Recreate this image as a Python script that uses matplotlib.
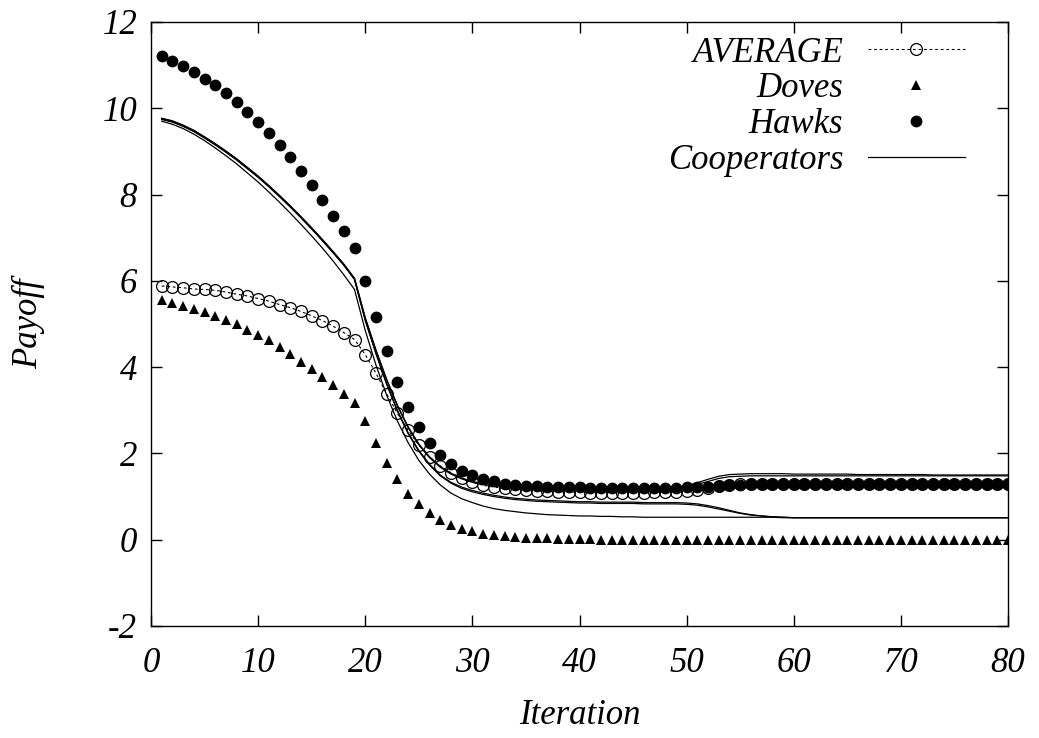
import numpy as np
import matplotlib
matplotlib.use('Agg')
import matplotlib.pyplot as plt

# Iterations 1..80
iteration = np.arange(1, 81)

average = [5.88, 5.86, 5.84, 5.81, 5.80, 5.78, 5.74, 5.69, 5.65, 5.59,
           5.53, 5.45, 5.38, 5.29, 5.19, 5.08, 4.95, 4.80, 4.64, 4.29,
           3.86, 3.38, 2.93, 2.54, 2.19, 1.92, 1.71, 1.55, 1.42, 1.33,
           1.26, 1.22, 1.19, 1.17, 1.15, 1.13, 1.12, 1.11, 1.10, 1.10,
           1.09, 1.09, 1.09, 1.09, 1.09, 1.09, 1.10, 1.10, 1.11, 1.13,
           1.16, 1.20, 1.24, 1.27, 1.29, 1.30, 1.30, 1.30, 1.30, 1.30,
           1.30, 1.30, 1.30, 1.30, 1.30, 1.30, 1.30, 1.30, 1.30, 1.30,
           1.30, 1.30, 1.30, 1.30, 1.30, 1.30, 1.30, 1.30, 1.30, 1.30]

doves = [5.55, 5.49, 5.42, 5.35, 5.27, 5.18, 5.09, 4.99, 4.87, 4.74,
         4.62, 4.47, 4.30, 4.12, 3.95, 3.77, 3.58, 3.38, 3.16, 2.74,
         2.25, 1.77, 1.40, 1.07, 0.82, 0.61, 0.45, 0.34, 0.25, 0.19,
         0.14, 0.11, 0.09, 0.07, 0.05, 0.04, 0.03, 0.02, 0.02, 0.01,
         0.01, 0.00, 0.00, 0.00, 0.00, 0.00, 0.00, 0.00, 0.00, 0.00,
         0.00, 0.00, 0.00, 0.00, 0.00, 0.00, 0.00, 0.00, 0.00, 0.00,
         0.00, 0.00, 0.00, 0.00, 0.00, 0.00, 0.00, 0.00, 0.00, 0.00,
         0.00, 0.00, 0.00, 0.00, 0.00, 0.00, 0.00, 0.00, 0.00, 0.00]

hawks = [11.21, 11.09, 10.97, 10.83, 10.68, 10.53, 10.35, 10.14, 9.92, 9.68,
         9.42, 9.15, 8.86, 8.54, 8.22, 7.87, 7.51, 7.15, 6.75, 6.00,
         5.17, 4.37, 3.66, 3.08, 2.61, 2.24, 1.96, 1.75, 1.60, 1.49,
         1.41, 1.35, 1.30, 1.27, 1.25, 1.24, 1.23, 1.22, 1.21, 1.21,
         1.20, 1.20, 1.20, 1.20, 1.20, 1.20, 1.20, 1.20, 1.20, 1.21,
         1.22, 1.23, 1.25, 1.26, 1.27, 1.28, 1.28, 1.28, 1.28, 1.28,
         1.28, 1.28, 1.28, 1.28, 1.28, 1.28, 1.28, 1.28, 1.28, 1.28,
         1.28, 1.28, 1.28, 1.28, 1.28, 1.28, 1.28, 1.28, 1.28, 1.28]

# five cooperator runs
coop_1 = [9.77, 9.71, 9.61, 9.49, 9.34, 9.18, 9.01, 8.83, 8.63, 8.43,
          8.21, 7.98, 7.74, 7.49, 7.23, 6.96, 6.68, 6.39, 6.06, 5.15,
          4.40, 3.72, 3.12, 2.62, 2.22, 1.92, 1.70, 1.54, 1.43, 1.35,
          1.30, 1.27, 1.25, 1.24, 1.23, 1.22, 1.22, 1.22, 1.22, 1.22,
          1.22, 1.22, 1.22, 1.22, 1.22, 1.22, 1.22, 1.22, 1.22, 1.25,
          1.32, 1.40, 1.47, 1.51, 1.52, 1.53, 1.53, 1.53, 1.53, 1.52,
          1.52, 1.52, 1.52, 1.52, 1.52, 1.51, 1.51, 1.51, 1.51, 1.51,
          1.51, 1.51, 1.50, 1.50, 1.50, 1.50, 1.50, 1.50, 1.50, 1.50]

coop_2 = [9.76, 9.70, 9.60, 9.48, 9.33, 9.17, 9.00, 8.82, 8.62, 8.42,
          8.20, 7.97, 7.73, 7.48, 7.22, 6.95, 6.67, 6.38, 6.05, 5.13,
          4.38, 3.70, 3.10, 2.60, 2.20, 1.90, 1.68, 1.52, 1.41, 1.33,
          1.28, 1.25, 1.23, 1.22, 1.21, 1.20, 1.20, 1.20, 1.20, 1.20,
          1.20, 1.20, 1.20, 1.20, 1.20, 1.20, 1.20, 1.20, 1.20, 1.22,
          1.28, 1.35, 1.42, 1.46, 1.47, 1.48, 1.48, 1.48, 1.48, 1.48,
          1.48, 1.48, 1.48, 1.48, 1.48, 1.48, 1.48, 1.48, 1.48, 1.48,
          1.48, 1.48, 1.48, 1.48, 1.48, 1.48, 1.48, 1.48, 1.48, 1.48]

coop_3 = [9.75, 9.69, 9.59, 9.47, 9.32, 9.16, 8.99, 8.81, 8.61, 8.41,
          8.19, 7.96, 7.72, 7.47, 7.21, 6.94, 6.66, 6.37, 6.04, 5.10,
          4.33, 3.62, 3.00, 2.48, 2.07, 1.75, 1.50, 1.33, 1.22, 1.14,
          1.08, 1.03, 0.99, 0.96, 0.94, 0.92, 0.91, 0.90, 0.89, 0.88,
          0.88, 0.87, 0.87, 0.87, 0.87, 0.86, 0.86, 0.86, 0.86, 0.85,
          0.83, 0.79, 0.74, 0.68, 0.62, 0.58, 0.55, 0.53, 0.52, 0.51,
          0.51, 0.51, 0.51, 0.51, 0.51, 0.51, 0.51, 0.51, 0.51, 0.51,
          0.51, 0.51, 0.51, 0.51, 0.51, 0.51, 0.51, 0.51, 0.51, 0.51]

coop_4 = [9.74, 9.68, 9.58, 9.46, 9.31, 9.15, 8.98, 8.80, 8.60, 8.40,
          8.18, 7.95, 7.71, 7.46, 7.20, 6.93, 6.65, 6.36, 6.03, 5.08,
          4.31, 3.60, 2.98, 2.46, 2.05, 1.73, 1.48, 1.31, 1.19, 1.11,
          1.05, 1.00, 0.96, 0.93, 0.91, 0.89, 0.88, 0.87, 0.86, 0.85,
          0.85, 0.84, 0.84, 0.84, 0.84, 0.83, 0.83, 0.83, 0.83, 0.82,
          0.80, 0.76, 0.71, 0.66, 0.61, 0.57, 0.55, 0.53, 0.52, 0.51,
          0.51, 0.51, 0.51, 0.51, 0.51, 0.51, 0.51, 0.51, 0.51, 0.51,
          0.51, 0.51, 0.51, 0.51, 0.51, 0.51, 0.51, 0.51, 0.51, 0.51]

coop_5 = [9.70, 9.63, 9.53, 9.40, 9.25, 9.08, 8.90, 8.71, 8.50, 8.29,
          8.06, 7.82, 7.57, 7.31, 7.04, 6.76, 6.46, 6.14, 5.80, 4.85,
          4.05, 3.35, 2.75, 2.25, 1.84, 1.52, 1.27, 1.08, 0.95, 0.86,
          0.78, 0.72, 0.68, 0.65, 0.62, 0.60, 0.58, 0.57, 0.56, 0.55,
          0.55, 0.54, 0.54, 0.53, 0.53, 0.52, 0.52, 0.52, 0.52, 0.52,
          0.52, 0.52, 0.52, 0.52, 0.52, 0.52, 0.52, 0.52, 0.51, 0.51,
          0.51, 0.51, 0.51, 0.51, 0.51, 0.51, 0.51, 0.51, 0.51, 0.51,
          0.51, 0.51, 0.51, 0.51, 0.51, 0.51, 0.51, 0.51, 0.51, 0.51]

cooperators = [coop_1, coop_2, coop_3, coop_4, coop_5]

x_ticks = [0, 10, 20, 30, 40, 50, 60, 70, 80]
y_ticks = [-2, 0, 2, 4, 6, 8, 10, 12]

plt.rcParams['font.family'] = ['Liberation Serif', 'DejaVu Serif']
plt.rcParams['font.style'] = 'italic'
plt.rcParams['axes.unicode_minus'] = False

fig = plt.figure(figsize=(10.39, 7.38), dpi=100)
ax = fig.add_axes([0.1453, 0.1518, 0.8249, 0.8184])

ax.plot(iteration, average, color='black', linestyle=(0, (2.5, 2.5)), lw=0.8,
        marker='o', markersize=8.5, markerfacecolor='none', markeredgewidth=0.9,
        label='AVERAGE')
ax.plot(iteration, doves, linestyle='none', marker='^', markersize=7.5,
        color='black', markeredgewidth=0, label='Doves')
ax.plot(iteration, hawks, linestyle='none', marker='o', markersize=8.5,
        color='black', markeredgewidth=0, label='Hawks')
for i, run in enumerate(cooperators):
    ax.plot(iteration, run, color='black', lw=0.9,
            label='Cooperators' if i == 0 else None)

ax.set_xlim(0, 80)
ax.set_ylim(-2, 12)
ax.set_xticks(x_ticks)
ax.set_yticks(y_ticks)
ax.tick_params(direction='in', length=8, width=1, top=True, right=True,
               labelsize=25)
ax.tick_params(axis='x', pad=15)
ax.tick_params(axis='y', pad=10)
for s in ax.spines.values():
    s.set_linewidth(1)

ax.set_xlabel('Iteration', fontsize=25, labelpad=14)
ax.set_ylabel('Payoff', fontsize=25, labelpad=41)

ax.legend(loc='upper right', bbox_to_anchor=(0.978, 1.016), frameon=False,
          markerfirst=False, numpoints=1, fontsize=25, handlelength=2.8,
          handletextpad=0.7, labelspacing=0.08, borderaxespad=0.3)

plt.savefig('out.png', dpi=100)
